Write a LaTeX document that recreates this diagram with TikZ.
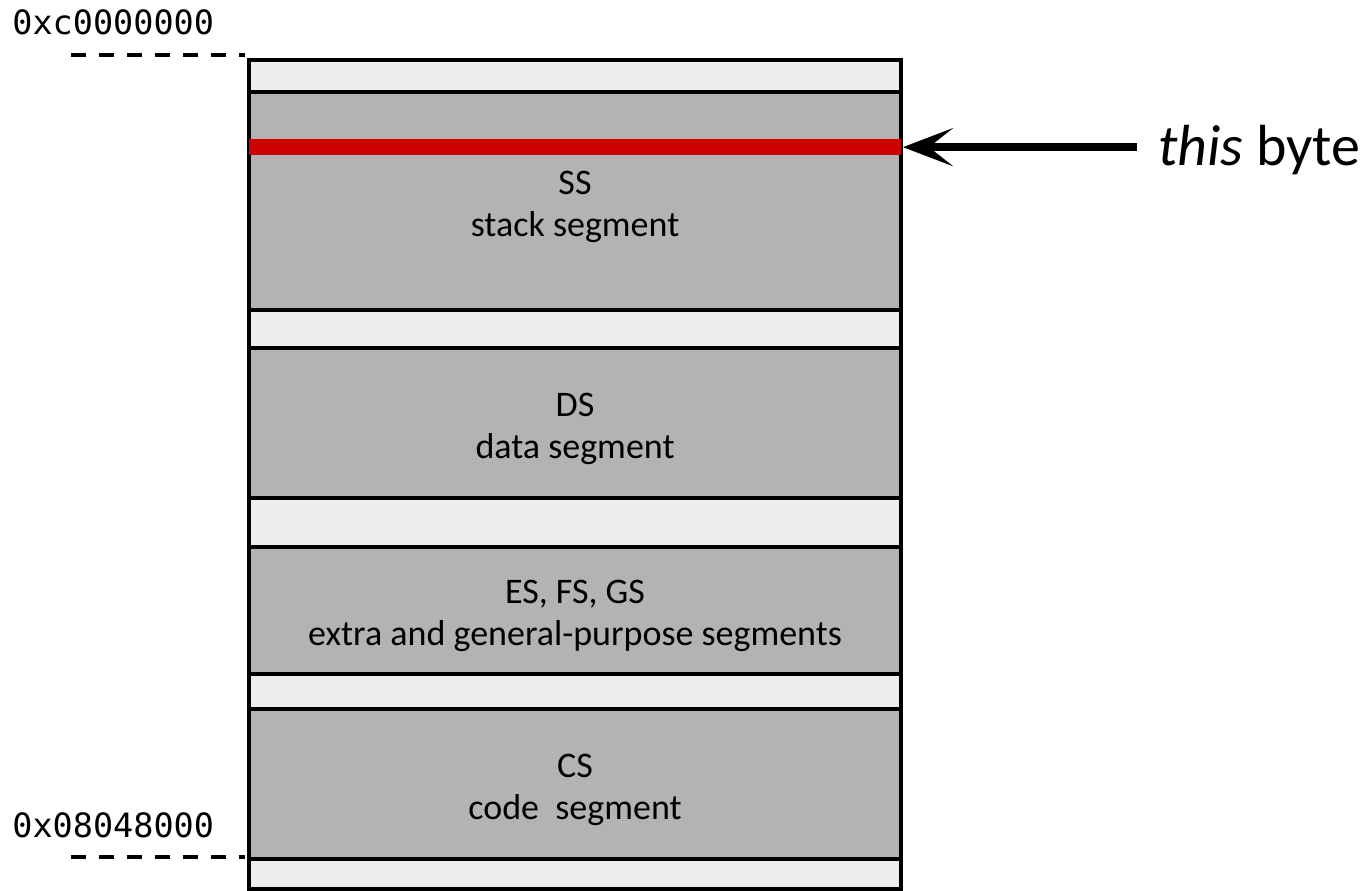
\documentclass[tikz,border=0pt]{standalone}
\usepackage{fontspec}
\setmainfont{Carlito}
\setmonofont{DejaVu Sans Mono}
\usetikzlibrary{arrows.meta}
\definecolor{seggray}{HTML}{B3B3B3}
\definecolor{gapgray}{HTML}{EEEEEE}
\definecolor{bytered}{HTML}{CC0000}
\tikzset{
  membox/.style={draw=black, fill=gapgray, line width=4pt, minimum width=652pt, inner sep=0pt},
  segbox/.style={draw=black, fill=seggray, line width=4pt, minimum width=652pt, inner sep=0pt},
  segtext/.style={align=center, inner sep=0pt, font=\fontsize{36}{42}\selectfont},
  addrlabel/.style={anchor=west, inner sep=0pt, font=\ttfamily\fontsize{33.5}{38}\selectfont},
  cutline/.style={dash pattern=on 15pt off 13pt, line width=4pt}
}
\begin{document}
\begin{tikzpicture}[scale=1.000000,x=1pt,y=1pt]
\filldraw[color=white] (0.000000, 0.000000) rectangle (1366.000000, 890.000000);
\useasboundingbox (0.000000, 0.000000) rectangle (1366.000000, 890.000000);
% Drawing memory
\node[membox, minimum height=829pt] (mem) at (575.000000, 415.500000) {};
% Drawing segments
% SS: stack segment
\node[segbox, minimum height=218pt] (ss) at (575.000000, 689.000000) {};
\node[segtext] (sstext) at ([yshift=-6pt]ss.center) {SS\\stack segment};
% DS: data segment
\node[segbox, minimum height=150pt] (ds) at (575.000000, 467.000000) {};
\node[segtext] (dstext) at ([yshift=-6pt]ds.center) {DS\\data segment};
% ES, FS, GS: extra segments
\node[segbox, minimum height=127pt] (es) at (575.000000, 279.500000) {};
\node[segtext] (estext) at ([yshift=-5pt]es.center) {ES, FS, GS\\extra and general-purpose segments};
% CS: code segment
\node[segbox, minimum height=150pt] (cs) at (575.000000, 106.000000) {};
\node[segtext] (cstext) at ([yshift=-6pt]cs.center) {CS\\code\ \ segment};
% Done with segments; drawing the byte
\coordinate (bytew) at (249.000000, 743.000000);
\coordinate (bytee) at (901.000000, 743.000000);
\draw[color=bytered, line width=16pt] (bytew) -- (bytee);
\node[anchor=west, inner xsep=21pt, inner ysep=0pt, font=\fontsize{58}{64}\selectfont] (this) at (1137.000000, 740.000000) {\textit{this} byte};
\draw[line width=8pt, -{Stealth[length=50pt, width=38pt, inset=24pt]}] (this.west |- bytee) -- ([xshift=2pt]bytee);
% Drawing addresses
\node[addrlabel] (top) at (12.000000, 868.000000) {0xc0000000};
\node[addrlabel] (bot) at (12.000000, 65.000000) {0x08048000};
\coordinate (topcut) at (71.000000, 835.000000);
\coordinate (botcut) at (71.000000, 33.000000);
\draw[cutline] (topcut) -- +(174.000000, 0.000000);
\draw[cutline] (botcut) -- +(174.000000, 0.000000);
% Done with addresses
\end{tikzpicture}
\end{document}
